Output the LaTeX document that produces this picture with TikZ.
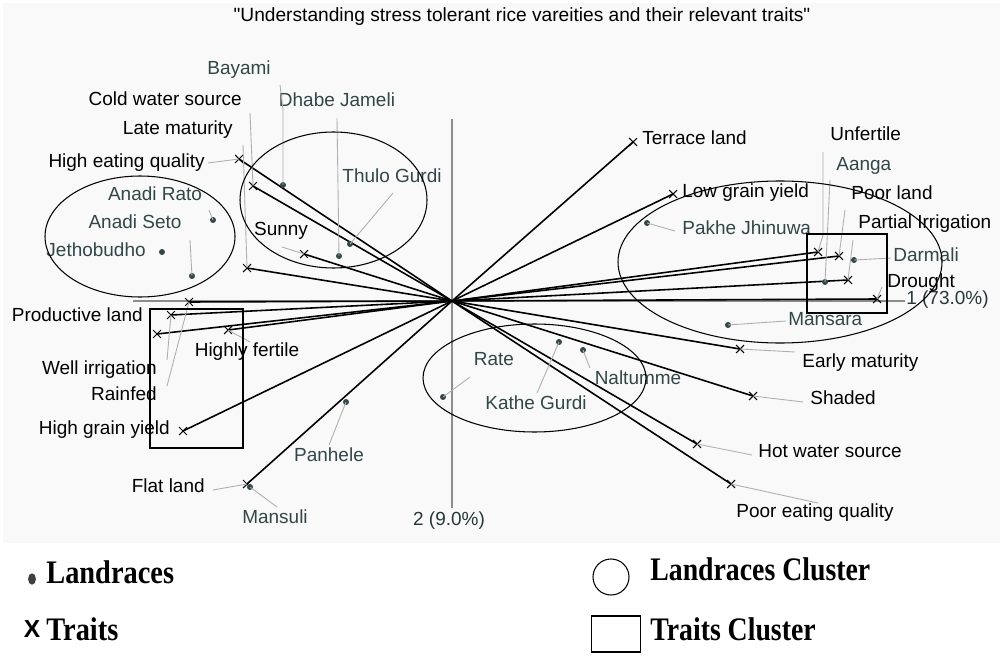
\documentclass[tikz,border=0pt]{standalone}
\usepackage{fontspec}
\setmainfont{Liberation Sans}
\newfontfamily\legfont{Liberation Serif}
\newfontfamily\titlefont[Ligatures=TeXOff]{Liberation Sans}
\usetikzlibrary{shapes.misc,shapes.geometric}
\definecolor{slate}{RGB}{50,70,72}
\definecolor{leadgray}{RGB}{175,175,175}
\definecolor{axisgray}{RGB}{140,140,140}
\definecolor{bgcol}{RGB}{249,249,249}
\tikzset{
  trait/.style={cross out, draw=black, line width=0.6pt, minimum size=4.5pt, inner sep=0pt, outer sep=0pt},
  land/.style={circle, fill=slate, minimum size=3.4pt, inner sep=0pt},
  tlab/.style={font=\fontsize{10.8}{12}\selectfont, text=black, inner sep=0pt},
  llab/.style={tlab, text=slate},
  alab/.style={tlab, text=slate!80!black},
  leader/.style={draw=leadgray, line width=0.5pt},
  ray/.style={draw=black, line width=0.9pt},
  axisline/.style={draw=axisgray, line width=0.8pt},
  cluster/.style={draw=black, line width=0.6pt},
  legtext/.style={font=\legfont\bfseries\fontsize{17}{20}\selectfont, inner sep=0pt, anchor=mid west},
}
\begin{document}
\begin{tikzpicture}[x=0.02cm, y=-0.02cm]
\useasboundingbox (0,0) rectangle (1000,662);
\fill[white] (0,0) rectangle (1000,662);
\fill[bgcol] (3,3) rectangle (1000,543);

% title
\node[inner sep=0pt, font=\titlefont\fontsize{10.9}{12}\selectfont] (title) at (522,17) {"Understanding stress tolerant rice vareities and their relevant traits"};

% axes
\coordinate (o) at (452,301);
\coordinate (ytop) at (452,119);
\coordinate (ybot) at (452,508);
\coordinate (xleft) at (133,301);
\coordinate (xright) at (905,301);
\draw[axisline] (ytop) -- (ybot);
\draw[axisline] (xleft) -- (xright);
\node[alab, anchor=mid] (ax2) at (449,521) {2 (9.0\%)};
\node[alab, anchor=mid west] (ax1) at (906,300) {1 (73.0\%)};

% trait markers
\node[trait] (t1) at (239,159) {};
\node[trait] (t2) at (253,186) {};
\node[trait] (t3) at (247,268) {};
\node[trait] (t4) at (304,254) {};
\node[trait] (t5) at (189,302) {};
\node[trait] (t6) at (171,315) {};
\node[trait] (t7) at (157,334) {};
\node[trait] (t8) at (228,330) {};
\node[trait] (t9) at (183,431) {};
\node[trait] (t10) at (247,484) {};
\node[trait] (t11) at (633,142) {};
\node[trait] (t12) at (673,194) {};
\node[trait] (t13) at (818,252) {};
\node[trait] (t14) at (839,256) {};
\node[trait] (t15) at (848,280) {};
\node[trait] (t16) at (877,299) {};
\node[trait] (t17) at (740,349) {};
\node[trait] (t18) at (753,396) {};
\node[trait] (t19) at (697,444) {};
\node[trait] (t20) at (731,484) {};

% rays
\foreach \t in {t1,t2,t3,t4,t5,t6,t7,t8,t9,t10,t11,t12,t13,t14,t15,t16,t17,t18,t19,t20}
  \draw[ray] (o) -- (\t.center);

% landrace markers
\node[land] (b1) at (283,185) {};
\node[land] (b2) at (339,256) {};
\node[land] (b3) at (350,244) {};
\node[land] (b4) at (213,220) {};
\node[land] (b5) at (192,276) {};
\node[land] (b6) at (162,252) {};
\node[land] (b7) at (647,223) {};
\node[land] (b8) at (825,282) {};
\node[land] (b9) at (854,260) {};
\node[land] (b10) at (728,325) {};
\node[land] (b11) at (443,397) {};
\node[land] (b12) at (559,342) {};
\node[land] (b13) at (583,350) {};
\node[land] (b14) at (346,402) {};
\node[land] (b15) at (250,487) {};

% trait labels
\node[tlab, anchor=mid east] (n1) at (205,163) {High eating quality};
\node[tlab, anchor=mid east] (n2) at (242,101) {Cold water source};
\node[tlab, anchor=mid east] (n3) at (233,130) {Late maturity};
\node[tlab, anchor=mid] (n4) at (281,231) {Sunny};
\node[tlab, anchor=mid east] (n5) at (157,396) {Rainfed};
\node[tlab, anchor=mid east] (n6) at (157,370) {Well irrigation};
\node[tlab, anchor=mid east] (n7) at (143,317) {Productive land};
\node[tlab, anchor=mid] (n8) at (247,352) {Highly fertile};
\node[tlab, anchor=mid east] (n9) at (170,430) {High grain yield};
\node[tlab, anchor=mid east] (n10) at (205,488) {Flat land};
\node[tlab, anchor=mid west] (n11) at (642,140) {Terrace land};
\node[tlab, anchor=mid west] (n12) at (682,193) {Low grain yield};
\node[tlab, anchor=mid west] (n13) at (830,136) {Unfertile};
\node[tlab, anchor=mid west] (n14) at (851,195) {Poor land};
\node[tlab, anchor=mid west] (n15) at (858,224) {Partial Irrigation};
\node[tlab, anchor=mid west] (n16) at (887,283) {Drought};
\node[tlab, anchor=mid west] (n17) at (802,363) {Early maturity};
\node[tlab, anchor=mid west] (n18) at (810,400) {Shaded};
\node[tlab, anchor=mid west] (n19) at (758,453) {Hot water source};
\node[tlab, anchor=mid] (n20) at (815,513) {Poor eating quality};

% landrace labels
\node[llab, anchor=mid] (m1) at (239,70) {Bayami};
\node[llab, anchor=mid] (m2) at (337,102) {Dhabe Jameli};
\node[llab, anchor=mid] (m3) at (392,178) {Thulo Gurdi};
\node[llab, anchor=mid] (m4) at (155,196) {Anadi Rato};
\node[llab, anchor=mid] (m5) at (135,224) {Anadi Seto};
\node[llab, anchor=mid east] (m6) at (146,252) {Jethobudho};
\node[llab, anchor=mid west] (m7) at (682,230) {Pakhe Jhinuwa};
\node[llab, anchor=mid west] (m8) at (836,166) {Aanga};
\node[llab, anchor=mid west] (m9) at (893,257) {Darmali};
\node[llab, anchor=mid west] (m10) at (788,321) {Mansara};
\node[llab, anchor=mid] (m11) at (494,361) {Rate};
\node[llab, anchor=mid] (m12) at (536,405) {Kathe Gurdi};
\node[llab, anchor=mid] (m13) at (638,380) {Naltumme};
\node[llab, anchor=mid] (m14) at (329,457) {Panhele};
\node[llab, anchor=mid] (m15) at (275,519) {Mansuli};

% leaders (traits)
\draw[leader] (t1.center) -- (208,163);
\draw[leader] (t2.center) -- (250,113);
\draw[leader] (t3.center) -- (243,145);
\draw[leader] (t4.center) -- (282,247);
\draw[leader] (t5.center) -- (167,386);
\draw[leader] (t6.center) -- (167,360);
\draw[leader] (t8.center) -- (250,342);
\draw[leader] (t10.center) -- (213,490);
\draw[leader] (t13.center) -- (823,235) -- (823,152);
\draw[leader] (t14.center) -- (845,210);
\draw[leader] (t15.center) -- (853,240);
\draw[leader] (t16.center) -- (882,287);
\draw[leader] (t17.center) -- (795,352);
\draw[leader] (t18.center) -- (803,402);
\draw[leader] (t19.center) -- (752,455);
\draw[leader] (t20.center) -- (818,503);
% leaders (landraces)
\draw[leader] (b1.center) -- (283,110) -- (280,85);
\draw[leader] (b2.center) -- (337,118);
\draw[leader] (b3.center) -- (393,193);
\draw[leader] (b4.center) -- (209,210);
\draw[leader] (b5.center) -- (190,240);
\draw[leader] (b7.center) -- (675,231);
\draw[leader] (b8.center) -- (830,180);
\draw[leader] (b9.center) -- (891,258);
\draw[leader] (b10.center) -- (786,321);
\draw[leader] (b11.center) -- (470,377);
\draw[leader] (b12.center) -- (537,393);
\draw[leader] (b13.center) -- (590,368);
\draw[leader] (b14.center) -- (329,445);
\draw[leader] (b15.center) -- (277,507);

% clusters
\draw[cluster] (140,236.5) ellipse [x radius=95, y radius=60.5];
\draw[cluster] (333.5,200) ellipse [x radius=93.5, y radius=68];
\draw[cluster] (780,262) ellipse [x radius=162, y radius=81];
\draw[cluster] (534.5,378) ellipse [x radius=111.5, y radius=54];
\draw[cluster] (150,309) rectangle (243,448);
\draw[cluster] (807,234) rectangle (887,313);

% legend
\node[ellipse, fill=black!75, minimum width=4.5pt, minimum height=6.5pt, inner sep=0pt] (lg1) at (32,579) {};
\node[legtext] (lgt1) at (46,579) {\scalebox{0.95}[1.1]{Landraces}};
\node[font=\bfseries\fontsize{14}{16}\selectfont, inner sep=0pt, anchor=mid] (lg2) at (32,633) {X};
\node[legtext] (lgt2) at (46,636) {\scalebox{0.95}[1.1]{Traits}};
\node[circle, draw=black, line width=0.6pt, minimum size=20.5pt, inner sep=0pt] (lg3) at (611,577) {};
\node[legtext] (lgt3) at (650,576) {\scalebox{0.93}[1.1]{Landraces Cluster}};
\node[rectangle, draw=black, line width=0.6pt, minimum width=28pt, minimum height=20.5pt, inner sep=0pt] (lg4) at (616,634) {};
\node[legtext] (lgt4) at (650,636) {\scalebox{0.93}[1.1]{Traits Cluster}};
\end{tikzpicture}
\end{document}
